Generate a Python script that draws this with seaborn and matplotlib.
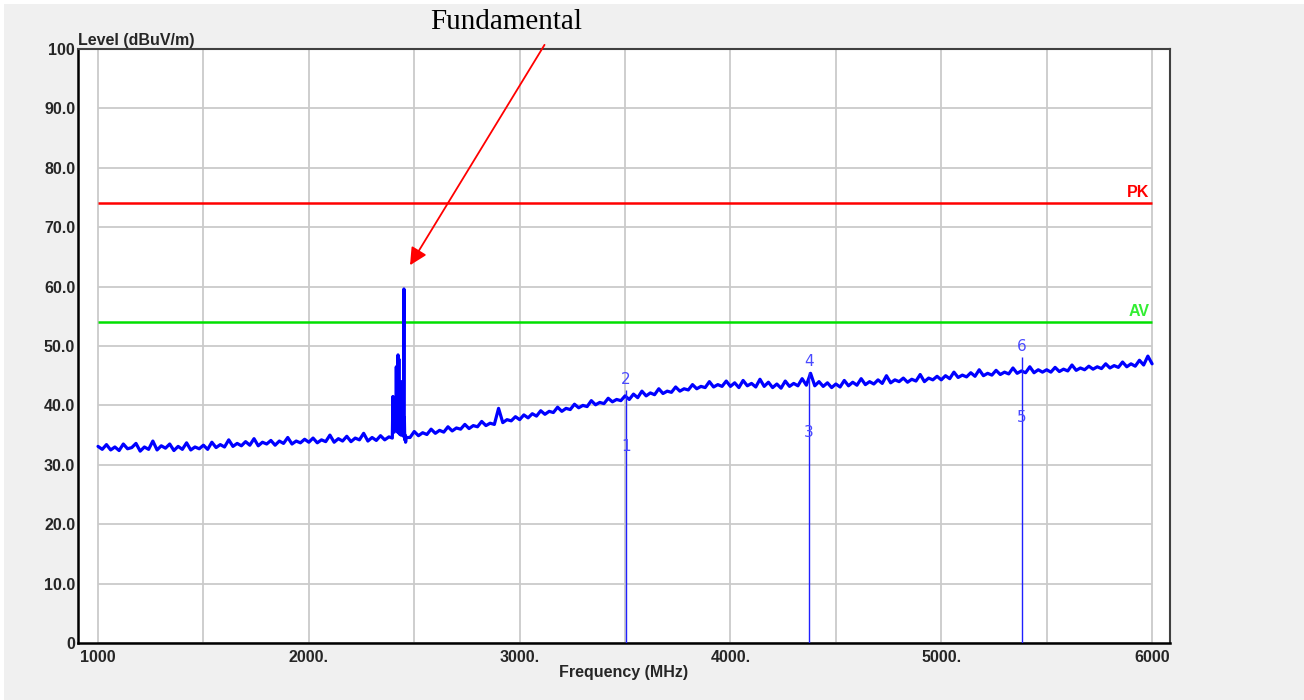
import numpy as np
import pandas as pd
import matplotlib
matplotlib.use("Agg")
import matplotlib.pyplot as plt
from matplotlib.patches import Rectangle
import seaborn as sns

# ---------------- data ----------------
freq_start = 1000
freq_step = 20
level_main = [
    # 1000-1480
    33.1, 32.6, 33.4, 32.5, 33.0, 32.4, 33.5, 32.7, 32.9, 33.6, 32.3, 33.0, 32.6,
    34.0, 32.5, 33.2, 32.8, 33.5, 32.4, 33.1, 32.6, 33.7, 32.5, 33.0, 32.7,
    # 1500-1980
    33.3, 32.6, 33.8, 32.9, 33.4, 33.0, 34.2, 33.1, 33.6, 33.2, 33.9, 33.3, 34.4,
    33.2, 33.8, 33.5, 34.1, 33.3, 34.0, 33.6, 34.6, 33.5, 34.0, 33.7, 34.3,
    # 2000-2380
    33.8, 34.5, 33.7, 34.2, 33.9, 35.0, 33.8, 34.4, 34.0, 34.8, 33.9, 34.5, 34.2,
    35.3, 34.0, 34.6, 34.1, 34.9, 34.2, 34.7,
    # 2400-2460
    34.8, 35.2, 35.0, 34.3,
    # 2480-2980
    34.6, 35.6, 34.9, 35.4, 35.1, 36.0, 35.3, 35.8, 35.5, 36.4, 35.7, 36.2, 36.0,
    36.8, 36.1, 36.6, 36.4, 37.3, 36.6, 37.0, 36.8, 39.5, 37.1, 37.6, 37.4, 38.1,
    # 3000-3480
    37.6, 38.4, 37.9, 38.6, 38.2, 39.1, 38.5, 39.0, 38.8, 39.7, 39.0, 39.5, 39.3,
    40.2, 39.6, 40.0, 39.8, 40.8, 40.1, 40.5, 40.3, 41.2, 40.6, 41.0, 40.8,
    # 3500-3980
    41.6, 41.0, 41.9, 41.3, 42.4, 41.6, 42.1, 41.8, 42.8, 42.0, 42.4, 42.2, 43.1,
    42.4, 42.8, 42.6, 43.5, 42.8, 43.2, 43.0, 44.0, 43.1, 43.5, 43.2, 44.1,
    # 4000-4480
    43.2, 43.8, 43.0, 44.2, 43.3, 43.7, 43.1, 44.4, 43.2, 43.9, 43.0, 43.6, 42.9,
    44.1, 43.2, 43.7, 43.3, 44.5, 43.4, 45.4, 43.3, 44.0, 43.2, 43.8, 43.0,
    # 4500-4980
    43.6, 43.1, 44.2, 43.3, 43.9, 43.4, 44.5, 43.5, 44.0, 43.6, 44.3, 43.7, 45.0,
    43.8, 44.3, 44.0, 44.6, 43.9, 44.4, 44.1, 45.2, 44.0, 44.6, 44.3, 44.9,
    # 5000-5480
    44.3, 45.0, 44.5, 45.6, 44.7, 45.1, 44.8, 45.5, 44.9, 46.0, 45.0, 45.4, 45.1,
    45.9, 45.2, 45.6, 45.3, 46.3, 45.4, 45.8, 45.5, 46.5, 45.5, 46.0, 45.6,
    # 5500-6000
    46.0, 45.6, 46.4, 45.7, 46.1, 45.8, 46.8, 45.9, 46.3, 46.0, 46.6, 46.1, 46.5,
    46.2, 47.0, 46.3, 46.7, 46.4, 47.3, 46.5, 47.0, 46.6, 47.6, 46.8, 48.3, 47.0,
]

freq_fund = [2396, 2399, 2401, 2403, 2405, 2407, 2409, 2411, 2413, 2415,
             2417, 2419, 2421, 2423, 2425, 2427, 2429, 2431, 2433, 2435,
             2437, 2439, 2441, 2443, 2445, 2447, 2449, 2451, 2452, 2453,
             2455, 2457, 2459, 2462]
level_fund = [34.5, 41.5, 36.0, 40.5, 35.5, 39.0, 37.0, 41.0, 35.8, 46.5,
              36.5, 40.0, 35.5, 48.5, 36.0, 47.8, 35.2, 42.0, 36.0, 39.5,
              35.0, 44.0, 35.5, 38.5, 35.0, 41.0, 34.8, 59.6, 35.5, 38.0,
              34.2, 35.0, 33.8, 34.6]

marker_freq = [3505, 4373, 5383]
marker_peak = [42.6, 45.6, 48.1]
marker_avg = [31.2, 33.6, 36.2]
marker_ids_avg = ["1", "3", "5"]
marker_ids_peak = ["2", "4", "6"]

limit_pk = 74.0
limit_av = 54.0

x_ticks = [1000, 2000, 3000, 4000, 5000, 6000]
x_ticklabels = ["1000", "2000.", "3000.", "4000.", "5000.", "6000"]
y_ticks = [0, 10, 20, 30, 40, 50, 60, 70, 80, 90, 100]
y_ticklabels = ["0", "10.0", "20.0", "30.0", "40.0", "50.0", "60.0", "70.0",
                "80.0", "90.0", "100"]

# ---------------- build trace ----------------
freq_main = freq_start + freq_step * np.arange(len(level_main))
main = pd.DataFrame({"freq": freq_main, "level": level_main})
main = main[(main.freq < 2396) | (main.freq > 2462)]
fund = pd.DataFrame({"freq": freq_fund, "level": level_fund})
trace = pd.concat([main, fund]).sort_values("freq").reset_index(drop=True)

# ---------------- figure ----------------
sns.set_theme(style="white")
plt.rcParams["font.family"] = ["Liberation Sans", "DejaVu Sans"]

W, H = 1304, 700
fig = plt.figure(figsize=(W / 100, H / 100), dpi=100, facecolor="white")
fig.add_artist(Rectangle((4 / W, 0), 1 - 4 / W, 1 - 4 / H,
                         transform=fig.transFigure, facecolor="#f0f0f0",
                         edgecolor="none", zorder=0))

ax = fig.add_axes([78 / W, 1 - 643 / H, (1170 - 78) / W, (643 - 49) / H])
ax.set_facecolor("white")
ax.set_xlim(905, 6085)
ax.set_ylim(0, 100)

# grid
ax.hlines(y_ticks, 1000, 6000, color="#cacaca", lw=1.3, zorder=1)
ax.vlines(np.arange(1000, 6001, 500), 0, 100, color="#cacaca", lw=1.3, zorder=1)

# limits
ax.hlines(limit_pk, 1000, 6000, color="#ff0000", lw=1.8, zorder=3)
ax.hlines(limit_av, 1000, 6000, color="#00e000", lw=1.8, zorder=3)
ax.text(5988, limit_pk + 0.6, "PK", color="#ff0000", fontsize=11.5,
        fontweight="bold", ha="right", va="bottom")
ax.text(5988, limit_av + 0.6, "AV", color="#33ee33", fontsize=11.5,
        fontweight="bold", ha="right", va="bottom")

# trace
sns.lineplot(data=trace, x="freq", y="level", ax=ax, color="#0000ff",
             lw=2.3, estimator=None, sort=False, zorder=4)

# markers
ax.vlines(marker_freq, 0, marker_peak, color="#2020ff", lw=1.0, zorder=5)
for f, v, t in zip(marker_freq, marker_avg, marker_ids_avg):
    ax.text(f, v + 1.8, t, color="#4a4aff", fontsize=11, ha="center",
            va="center", family="DejaVu Sans", zorder=6)
for f, v, t in zip(marker_freq, marker_peak, marker_ids_peak):
    ax.text(f, v + 1.8, t, color="#4a4aff", fontsize=11, ha="center",
            va="center", family="DejaVu Sans", zorder=6)

# axes styling
ax.set_xticks(x_ticks)
ax.set_xticklabels(x_ticklabels, fontsize=11.5, fontweight="bold")
ax.set_yticks(y_ticks)
ax.set_yticklabels(y_ticklabels, fontsize=11.5, fontweight="bold")
ax.tick_params(axis="both", length=0)
ax.tick_params(axis="x", pad=5)
ax.tick_params(axis="y", pad=2)
ax.set_xlabel("Frequency (MHz)", fontsize=11.5, fontweight="bold", labelpad=0)
ax.set_ylabel("")
for side in ["left", "bottom"]:
    ax.spines[side].set_color("black")
    ax.spines[side].set_linewidth(1.8)
for side in ["top", "right"]:
    ax.spines[side].set_color("#404040")
    ax.spines[side].set_linewidth(1.5)
    ax.spines[side].set_visible(True)

fig.text(78 / W, 1 - 40 / H, "Level (dBuV/m)", fontsize=11.5, fontweight="bold",
         ha="left", va="center")

# annotation
ax.annotate("", xy=(2480, 63.6), xytext=(3118, 100.7), xycoords="data",
            annotation_clip=False,
            arrowprops=dict(arrowstyle="-|>", color="#ff0000", lw=1.3,
                            mutation_scale=26, shrinkA=0, shrinkB=0))
fig.text(506 / W, 1 - 22 / H, "Fundamental", fontsize=21,
         family="Liberation Serif", ha="center", va="center", color="black")

fig.savefig("out.png", dpi=100, facecolor=fig.get_facecolor())
